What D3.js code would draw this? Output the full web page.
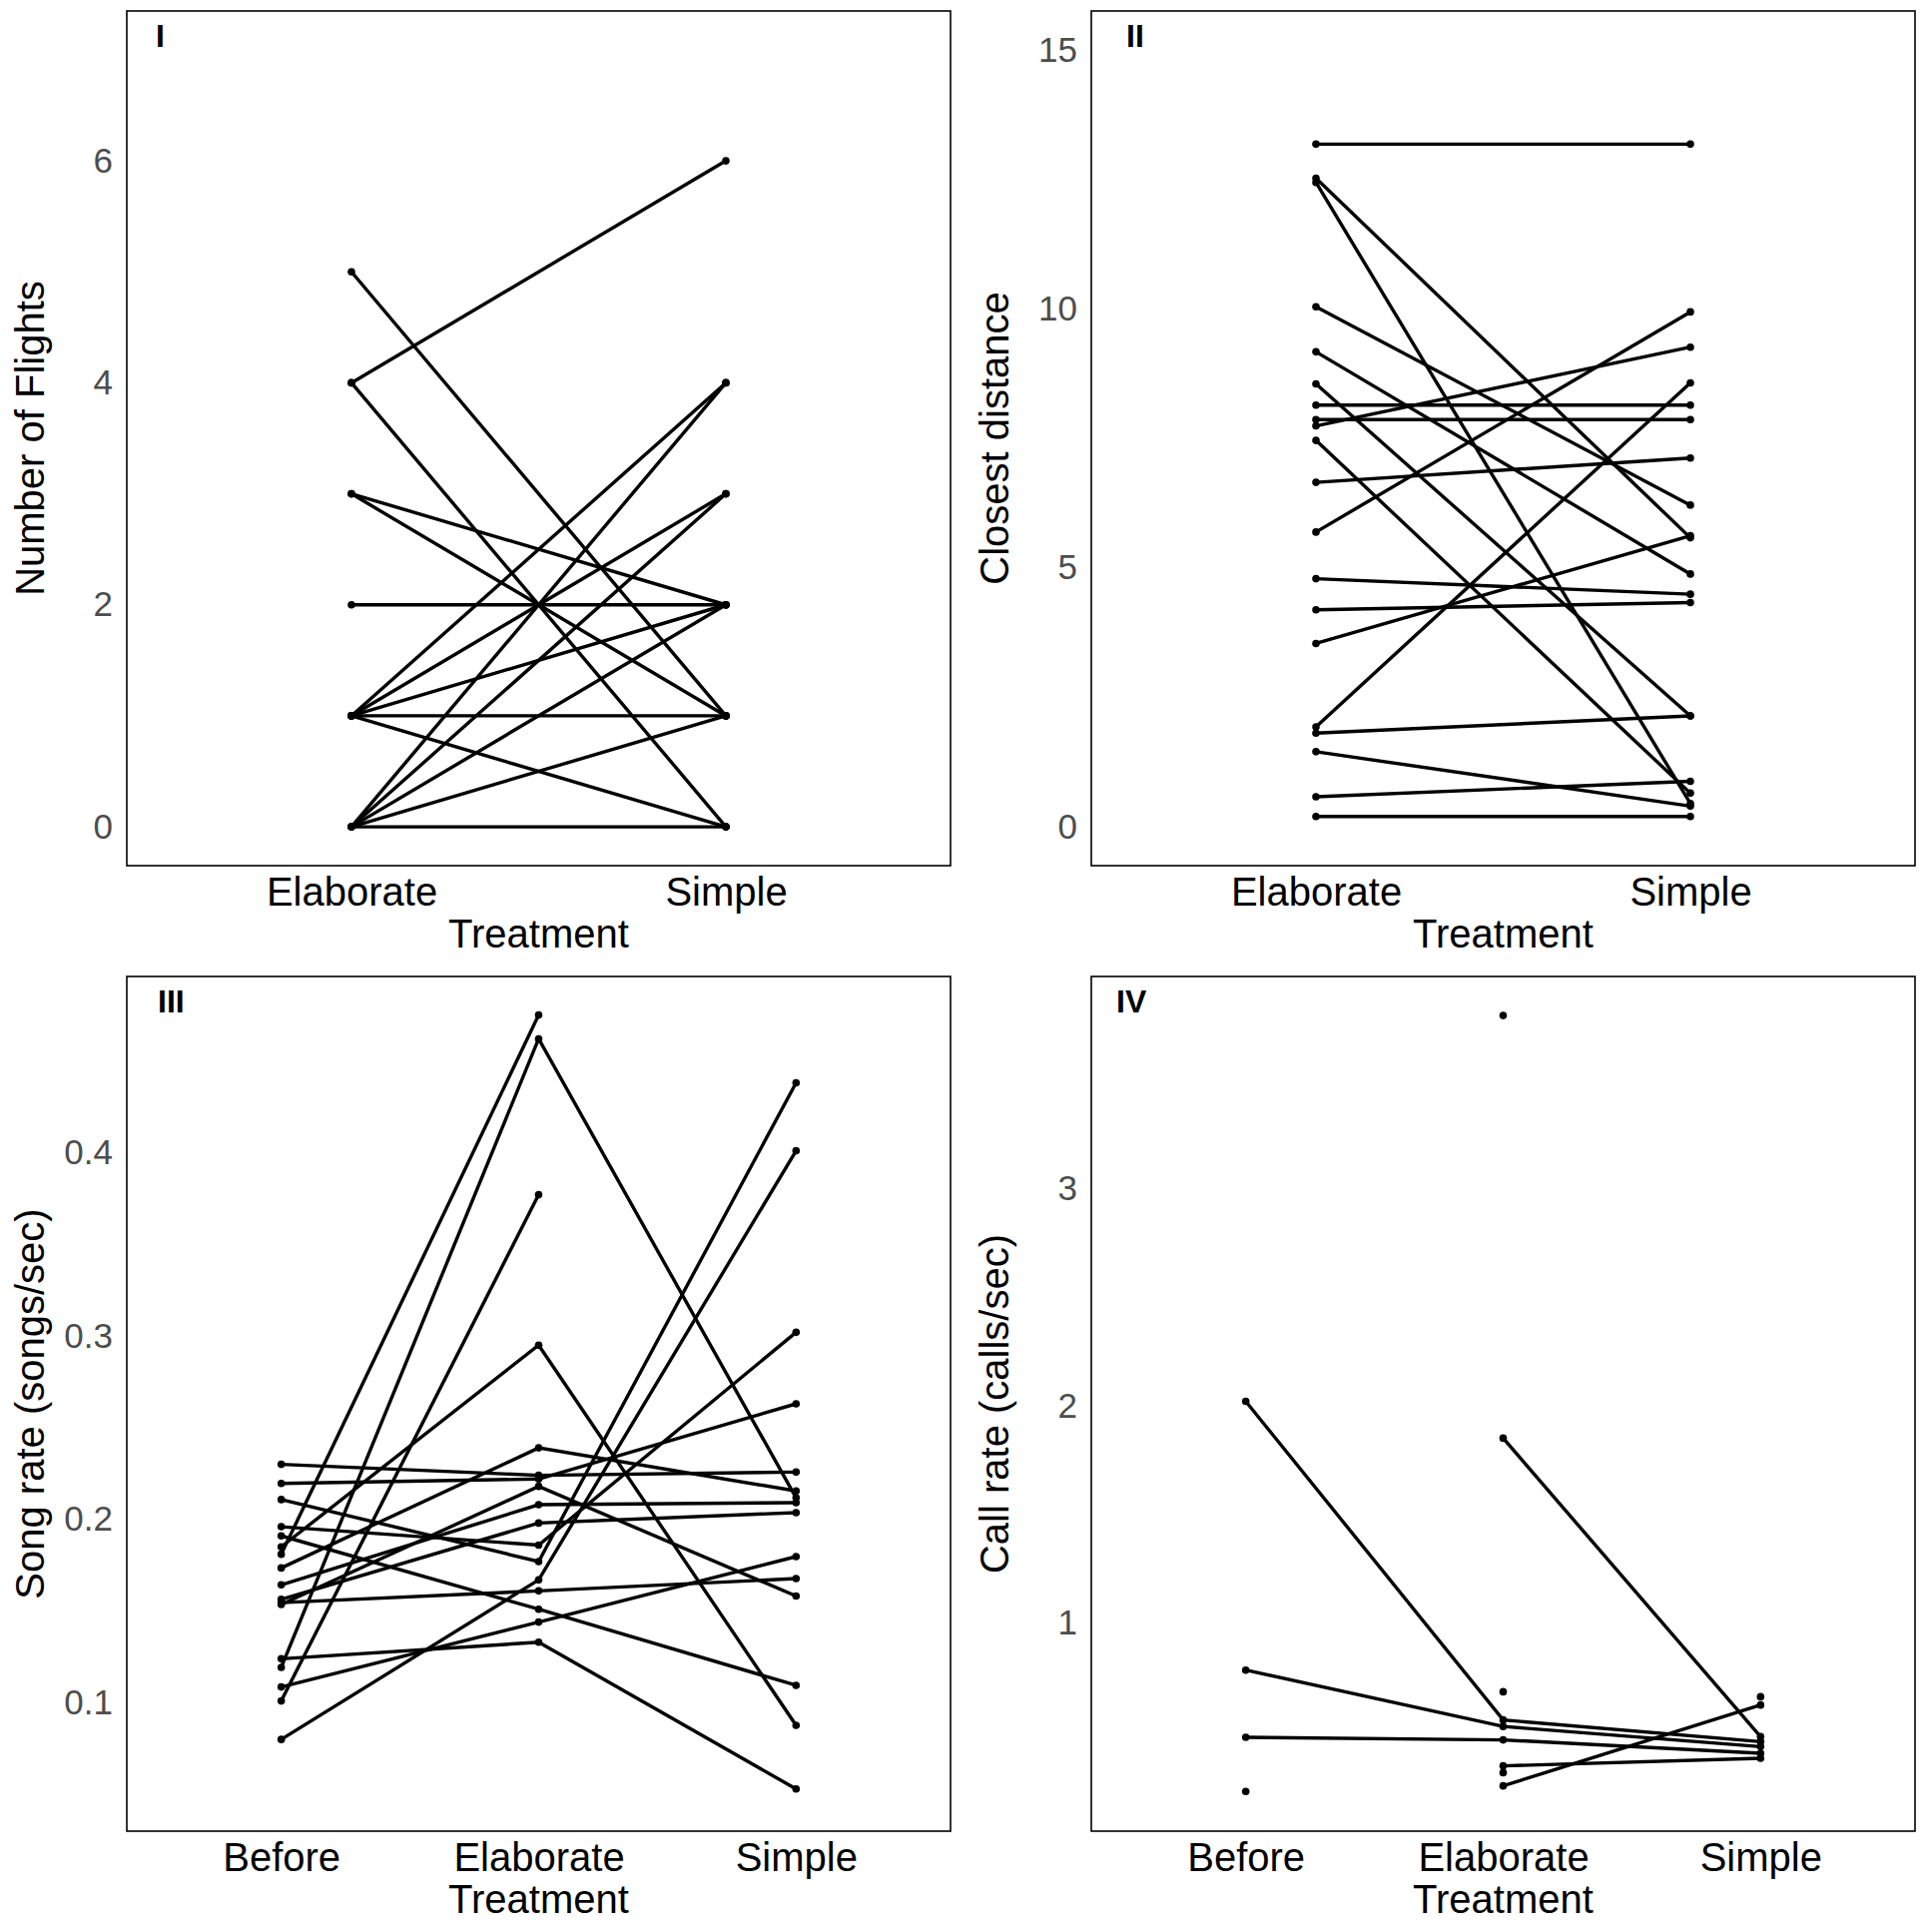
<!DOCTYPE html>
<html><head><meta charset="utf-8">
<script src="https://cdn.jsdelivr.net/npm/d3@7"></script>
<style>
body{margin:0;background:#fff}
svg{display:block}
text{font-family:"Liberation Sans",Arial,Helvetica,sans-serif}
</style>
</head><body>
<svg id="chart" width="1932" height="1935"></svg>
<script>
// ---------- data ----------
const treatments2 = ["Elaborate", "Simple"];
const treatments3 = ["Before", "Elaborate", "Simple"];

// Panel I: number of flights (one entry per bird)
const flightsElaborate = [4, 5, 4, 3, 3, 2, 1, 0, 1, 0, 1, 0, 1, 1, 0, 0];
const flightsSimple    = [6, 1, 0, 2, 1, 2, 4, 4, 3, 3, 2, 2, 1, 0, 1, 0];
const flightTicks = [0, 2, 4, 6];

// Panel II: closest distance
const distElaborate = [13.18, 12.52, 12.44, 10.04, 9.17, 8.55, 8.14, 7.86, 7.74, 7.46, 6.65, 5.69, 4.79, 4.19, 3.54, 1.93, 1.81, 1.45, 0.58, 0.20];
const distSimple    = [13.18, 5.58, 0.45, 6.21, 4.88, 2.14, 8.14, 7.86, 9.26, 0.65, 7.12, 9.94, 4.49, 4.33, 5.62, 8.57, 2.14, 0.40, 0.88, 0.20];
const distTicks = [0, 5, 10, 15];

// Panel III: song rate (songs/sec)
const songBefore    = [0.181, 0.1193, 0.101, 0.185, 0.1735, 0.230, 0.2196, 0.2108, 0.196, 0.1643, 0.1564, 0.1546, 0.1536, 0.080, 0.1086, 0.124, 0.191];
const songElaborate = [0.475, 0.462, 0.377, 0.295, 0.239, 0.224, 0.222, 0.177, 0.186, 0.208, 0.198, 0.161, 0.218, 0.167, 0.144, 0.133, 0.151];
const songSimple    = [null, 0.2118, null, 0.0877, 0.2155, 0.2258, 0.263, 0.438, 0.302, 0.2091, 0.2037, 0.1677, 0.1582, 0.401, 0.1797, 0.053, 0.1095];
const songTicks = [0.1, 0.2, 0.3, 0.4];

// Panel IV: call rate (calls/sec)
const callBefore    = [2.02, 0.78, 0.47, null, null, null, 0.22, null, null, null, null];
const callElaborate = [0.55, 0.52, 0.458, 1.85, 0.338, 0.246, null, 3.80, 0.68, 0.307, null];
const callSimple    = [0.45, 0.427, 0.396, 0.473, 0.373, 0.619, null, null, null, null, 0.657];
const callTicks = [1, 2, 3];

// ---------- drawing ----------
const svg = d3.select("#chart");
const W = 825, H = 856;

function drawPanel(cfg) {
  const g = svg.append("g");
  const L = cfg.left, T = cfg.top;
  const x = d3.scalePoint().domain(cfg.cats).range([L, L + W]).padding(0.6);
  const y = d3.scaleLinear().domain(cfg.domain).range([T + H, T]);

  const n = cfg.series[0].length;
  const birds = d3.range(n).map(i => cfg.cats.map((c, j) => ({c: c, v: cfg.series[j][i]})));

  const line = d3.line()
    .defined(d => d.v != null)
    .x(d => x(d.c))
    .y(d => y(d.v));

  g.append("g").selectAll("path").data(birds).join("path")
    .attr("d", line)
    .attr("fill", "none")
    .attr("stroke", "#000")
    .attr("stroke-width", 3.4);

  const pts = birds.flat().filter(d => d.v != null);
  g.append("g").selectAll("circle").data(pts).join("circle")
    .attr("cx", d => x(d.c))
    .attr("cy", d => y(d.v))
    .attr("r", 3.8)
    .attr("fill", "#000");

  // border
  g.append("rect")
    .attr("x", L).attr("y", T).attr("width", W).attr("height", H)
    .attr("fill", "none").attr("stroke", "#000").attr("stroke-width", 1.6);

  // y axis labels
  const yAxis = d3.axisLeft(y).tickValues(cfg.ticks).tickFormat(cfg.fmt).tickSize(0).tickPadding(14);
  const ya = g.append("g").attr("transform", `translate(${L},0)`).call(yAxis);
  ya.select(".domain").remove();
  ya.selectAll("text").attr("font-size", 35).attr("fill", "#4d4d4d")
    .attr("font-family", '"Liberation Sans",Arial,sans-serif');

  // x axis labels
  const xAxis = d3.axisBottom(x).tickSize(0).tickPadding(14);
  const xa = g.append("g").attr("transform", `translate(0,${T + H})`).call(xAxis);
  xa.select(".domain").remove();
  xa.selectAll("text").attr("font-size", 40).attr("fill", "#000")
    .attr("dy", null).attr("y", 40)
    .attr("font-family", '"Liberation Sans",Arial,sans-serif');

  // x title
  g.append("text")
    .attr("x", L + W / 2).attr("y", T + H + 82)
    .attr("text-anchor", "middle").attr("font-size", 40).attr("fill", "#000")
    .text("Treatment");

  // y title
  g.append("text")
    .attr("transform", `translate(${L - 83},${T + H / 2}) rotate(-90)`)
    .attr("text-anchor", "middle").attr("font-size", 40).attr("fill", "#000")
    .text(cfg.ytitle);

  // panel label
  g.append("text")
    .attr("x", L + cfg.labelDx).attr("y", T + 36)
    .attr("font-size", 32).attr("font-weight", "bold").attr("fill", "#000")
    .text(cfg.label);
}

drawPanel({left: 127, top: 11, cats: treatments2, series: [flightsElaborate, flightsSimple],
  domain: [-0.35, 7.35], ticks: flightTicks, fmt: d3.format("d"),
  ytitle: "Number of Flights", label: "I", labelDx: 29});

drawPanel({left: 1093, top: 11, cats: treatments2, series: [distElaborate, distSimple],
  domain: [-0.75, 15.75], ticks: distTicks, fmt: d3.format("d"),
  ytitle: "Closest distance", label: "II", labelDx: 35});

drawPanel({left: 127, top: 978, cats: treatments3, series: [songBefore, songElaborate, songSimple],
  domain: [0.03, 0.496], ticks: songTicks, fmt: d3.format(".1f"),
  ytitle: "Song rate (songs/sec)", label: "III", labelDx: 31});

drawPanel({left: 1093, top: 978, cats: treatments3, series: [callBefore, callElaborate, callSimple],
  domain: [0.037, 3.98], ticks: callTicks, fmt: d3.format("d"),
  ytitle: "Call rate (calls/sec)", label: "IV", labelDx: 25});
</script>
</body></html>
